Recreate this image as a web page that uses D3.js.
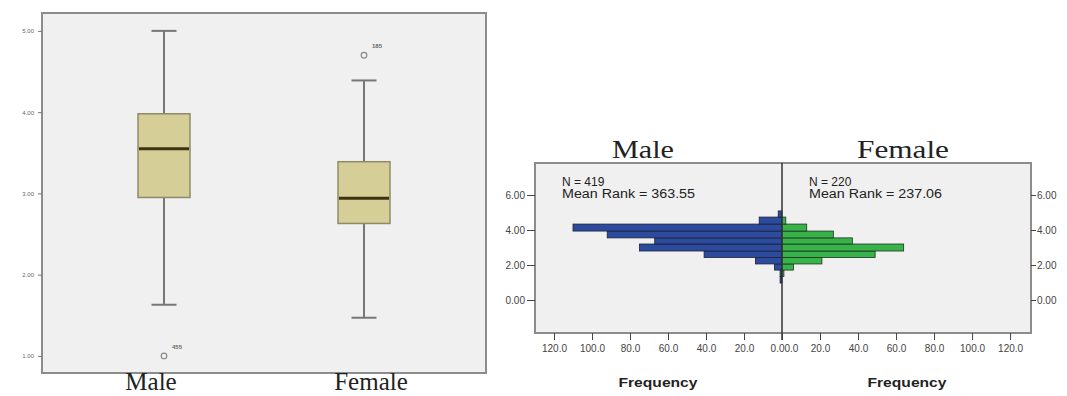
<!DOCTYPE html>
<html>
<head>
<meta charset="utf-8">
<script src="https://cdn.jsdelivr.net/npm/d3@7"></script>
<style>
  body { margin: 0; background: #fff; }
  svg { display: block; }
  text { font-family: "Liberation Sans", Arial, sans-serif; }
  .serif { font-family: "Liberation Serif", "Times New Roman", serif; fill: #222; }
</style>
</head>
<body>
<script>
// box plot (left)
var groups = ["Male", "Female"]
var whiskerLow = [1.63, 1.47]
var q1 = [2.95, 2.63]
var median = [3.55, 2.94]
var q3 = [3.98, 3.39]
var whiskerHigh = [5.00, 4.39]
var outlierValue = [1.00, 4.70]
var outlierLabel = ["455", "185"]
var boxTicks = [1, 2, 3, 4, 5]

// population pyramid histogram (right)
var binEdges = [0.97, 1.34, 1.71, 2.06, 2.43, 2.80, 3.20, 3.55, 3.94, 4.34, 4.74, 5.09]
var maleCounts = [1, 1, 4, 14, 41, 75, 67, 92, 110, 12, 2]
var femaleCounts = [0, 1, 6, 21, 49, 64, 37, 27, 13, 2, 0]
var histYTicks = [0, 2, 4, 6]
var freqTicks = [0, 20, 40, 60, 80, 100, 120]
var nLabels = ["N = 419", "N = 220"]
var rankLabels = ["Mean Rank = 363.55", "Mean Rank = 237.06"]

var svg = d3.select("body").append("svg")
    .attr("width", 1067)
    .attr("height", 396)

// ---------- left: box plot ----------
var bx = {left: 42, right: 486, top: 13, bottom: 373}

var xBox = d3.scalePoint()
    .domain(groups)
    .range([bx.left, bx.right])
    .padding(0.61)

var yBox = d3.scaleLinear()
    .domain([0.79, 5.22])
    .range([bx.bottom, bx.top])

svg.append("rect")
    .attr("x", bx.left).attr("y", bx.top)
    .attr("width", bx.right - bx.left).attr("height", bx.bottom - bx.top)
    .attr("fill", "#f0f0f0")
    .attr("stroke", "#8c8c8c")
    .attr("stroke-width", 2)

var yAxisBox = svg.append("g")
    .attr("transform", "translate(" + bx.left + ",0)")
    .call(d3.axisLeft(yBox).tickValues(boxTicks).tickSize(4).tickFormat(d3.format(".2f")))
yAxisBox.select(".domain").remove()
yAxisBox.selectAll("line").attr("stroke", "#777")
yAxisBox.selectAll("text").attr("fill", "#666").attr("font-size", 6).attr("dx", -1)

var boxW = 52, capW = 25

groups.forEach(function(g, i) {
  var cx = xBox(g)
  var grp = svg.append("g")

  // whisker stem
  grp.append("line")
      .attr("x1", cx).attr("x2", cx)
      .attr("y1", yBox(whiskerLow[i])).attr("y2", yBox(whiskerHigh[i]))
      .attr("stroke", "#767676").attr("stroke-width", 2)
  // caps
  ;[whiskerLow[i], whiskerHigh[i]].forEach(function(v) {
    grp.append("line")
        .attr("x1", cx - capW / 2).attr("x2", cx + capW / 2)
        .attr("y1", yBox(v)).attr("y2", yBox(v))
        .attr("stroke", "#767676").attr("stroke-width", 2)
  })
  // box
  grp.append("rect")
      .attr("x", cx - boxW / 2).attr("width", boxW)
      .attr("y", yBox(q3[i])).attr("height", yBox(q1[i]) - yBox(q3[i]))
      .attr("fill", "#d5cf97")
      .attr("stroke", "#8d8a68").attr("stroke-width", 1.5)
  // median
  grp.append("line")
      .attr("x1", cx - boxW / 2 + 1).attr("x2", cx + boxW / 2 - 1)
      .attr("y1", yBox(median[i])).attr("y2", yBox(median[i]))
      .attr("stroke", "#3b3512").attr("stroke-width", 3)
  // outlier
  grp.append("circle")
      .attr("cx", cx).attr("cy", yBox(outlierValue[i])).attr("r", 2.8)
      .attr("fill", "none").attr("stroke", "#8a8a8a").attr("stroke-width", 1.2)
  grp.append("text")
      .attr("x", cx + 8).attr("y", yBox(outlierValue[i]) - 7)
      .attr("font-size", 6).attr("font-weight", "bold").attr("fill", "#666")
      .text(outlierLabel[i])

  svg.append("text")
      .attr("class", "serif")
      .attr("x", cx + (i == 0 ? -13 : 7)).attr("y", 390)
      .attr("text-anchor", "middle")
      .attr("font-size", 25)
      .text(g)
})

// ---------- right: histogram pyramid ----------
var hx = {left: 535, mid: 782, right: 1031, top: 163, bottom: 333}

var yHist = d3.scaleLinear()
    .domain([-1.886, 7.83])
    .range([hx.bottom, hx.top])

var xMale = d3.scaleLinear().domain([0, 130]).range([hx.mid, hx.left])
var xFemale = d3.scaleLinear().domain([0, 131]).range([hx.mid, hx.right])

svg.append("rect")
    .attr("x", hx.left).attr("y", hx.top)
    .attr("width", hx.right - hx.left).attr("height", hx.bottom - hx.top)
    .attr("fill", "#f0f0f0")
    .attr("stroke", "#8c8c8c")
    .attr("stroke-width", 2)

var bins = d3.range(maleCounts.length)

svg.append("g").selectAll("rect")
    .data(bins)
    .enter().append("rect")
    .attr("x", function(i) { return xMale(maleCounts[i]) })
    .attr("width", function(i) { return hx.mid - xMale(maleCounts[i]) })
    .attr("y", function(i) { return yHist(binEdges[i + 1]) })
    .attr("height", function(i) { return yHist(binEdges[i]) - yHist(binEdges[i + 1]) })
    .attr("fill", "#2c4b9e")
    .attr("stroke", "#1c2236").attr("stroke-width", 0.8)
    .style("display", function(i) { return maleCounts[i] ? null : "none" })

svg.append("g").selectAll("rect")
    .data(bins)
    .enter().append("rect")
    .attr("x", hx.mid)
    .attr("width", function(i) { return xFemale(femaleCounts[i]) - hx.mid })
    .attr("y", function(i) { return yHist(binEdges[i + 1]) })
    .attr("height", function(i) { return yHist(binEdges[i]) - yHist(binEdges[i + 1]) })
    .attr("fill", "#38b34a")
    .attr("stroke", "#1d3320").attr("stroke-width", 0.8)
    .style("display", function(i) { return femaleCounts[i] ? null : "none" })

// center divider
svg.append("line")
    .attr("x1", hx.mid).attr("x2", hx.mid)
    .attr("y1", hx.top).attr("y2", hx.bottom + 7)
    .attr("stroke", "#333").attr("stroke-width", 1.5)

function styleAxis(ax) {
  ax.select(".domain").remove()
  ax.selectAll("line").attr("stroke", "#444")
  ax.selectAll("text").attr("fill", "#444").attr("font-size", 10)
}

var yLeft = svg.append("g")
    .attr("transform", "translate(" + hx.left + ",0)")
    .call(d3.axisLeft(yHist).tickValues(histYTicks).tickSize(8).tickPadding(2).tickFormat(d3.format(".2f")))
styleAxis(yLeft)

var yRight = svg.append("g")
    .attr("transform", "translate(" + hx.right + ",0)")
    .call(d3.axisRight(yHist).tickValues(histYTicks).tickSize(5).tickPadding(1).tickFormat(d3.format(".2f")))
styleAxis(yRight)

var fmt = d3.format(".1f")
var xAxisMale = svg.append("g")
    .attr("transform", "translate(0," + hx.bottom + ")")
    .call(d3.axisBottom(xMale).tickValues(freqTicks).tickSize(7).tickPadding(5).tickFormat(fmt))
styleAxis(xAxisMale)
xAxisMale.selectAll(".tick text").attr("text-anchor", function(d) { return d == 0 ? "end" : "middle" })
    .attr("dx", function(d) { return d == 0 ? 2 : 0 })

var xAxisFemale = svg.append("g")
    .attr("transform", "translate(0," + hx.bottom + ")")
    .call(d3.axisBottom(xFemale).tickValues(freqTicks).tickSize(7).tickPadding(5).tickFormat(fmt))
styleAxis(xAxisFemale)
xAxisFemale.selectAll(".tick text").attr("text-anchor", function(d) { return d == 0 ? "start" : "middle" })
    .attr("dx", function(d) { return d == 0 ? 2 : 0 })

// panel titles, counts, axis titles
var halves = [
  {title: "Male", cx: 643, textX: 562, fx: 658},
  {title: "Female", cx: 903, textX: 809, fx: 907}
]

halves.forEach(function(h, i) {
  svg.append("text")
      .attr("class", "serif")
      .attr("x", h.cx).attr("y", 158)
      .attr("text-anchor", "middle")
      .attr("font-size", 26)
      .attr("textLength", i == 0 ? 62 : 92)
      .attr("lengthAdjust", "spacingAndGlyphs")
      .text(h.title)

  svg.append("text")
      .attr("x", h.textX).attr("y", 186)
      .attr("font-size", 12).attr("fill", "#222")
      .text(nLabels[i])
  svg.append("text")
      .attr("x", h.textX).attr("y", 198)
      .attr("font-size", 12).attr("fill", "#222")
      .attr("textLength", 133).attr("lengthAdjust", "spacingAndGlyphs")
      .text(rankLabels[i])

  svg.append("text")
      .attr("x", h.fx).attr("y", 387)
      .attr("text-anchor", "middle")
      .attr("font-size", 13).attr("font-weight", "bold").attr("fill", "#222")
      .attr("textLength", 79).attr("lengthAdjust", "spacingAndGlyphs")
      .text("Frequency")
})
</script>
</body>
</html>
